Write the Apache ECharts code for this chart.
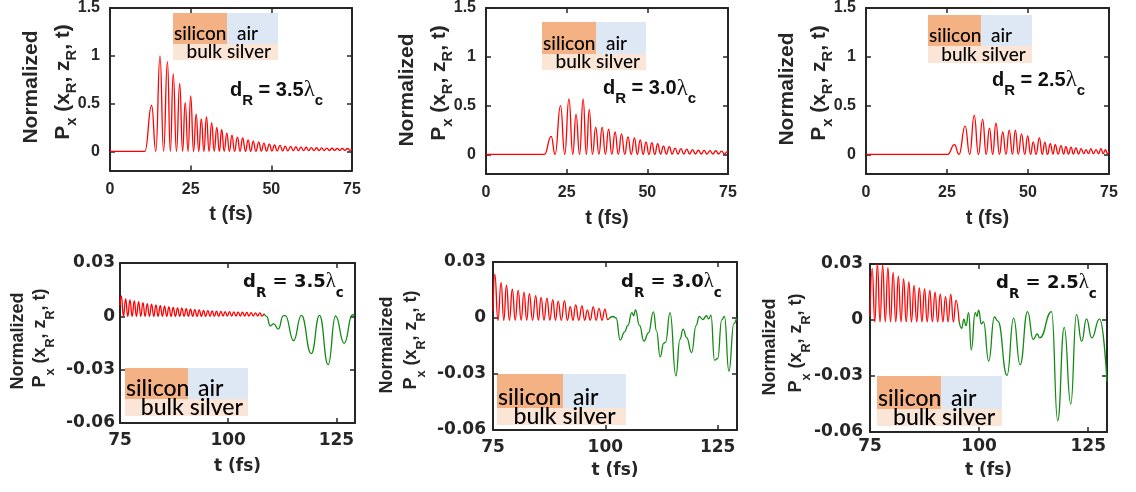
<!DOCTYPE html>
<html>
<head>
<meta charset="utf-8">
<title>Normalized Px(xR, zR, t)</title>
<script src="https://cdn.jsdelivr.net/npm/echarts@6/dist/echarts.min.js"></script>
<style>
html, body { margin: 0; padding: 0; background: #fff; }
#chart { width: 1136px; height: 492px; }
</style>
</head>
<body>
<div id="chart"></div>
<script>
// ---- data: [t (fs), normalized Px] ----
const top35 = [[0,0],[10.8,0],[12.9,0.48],[14.2,0],[15.5,1.0],[16.6,0],[17.8,0.94],[18.7,0],[19.6,0.81],[20.6,0],[21.6,0.71],[22.5,0],[23.3,0.51],[24.2,0],[25.0,0.58],[25.9,0],[26.7,0.39],[27.5,0],[28.3,0.34],[29.1,0],[29.9,0.36],[30.7,0],[31.5,0.30],[32.3,0],[33.1,0.25],[33.9,0],[34.6,0.23],[35.4,0],[36.2,0.19],[37.0,0],[37.8,0.17],[38.6,0],[39.5,0.15],[40.3,0],[41.1,0.14],[42.0,0],[42.8,0.12],[43.6,0],[44.4,0.107],[45.2,0],[46.1,0.096],[46.9,0.003],[47.7,0.086],[48.5,0.003],[49.4,0.075],[50.2,0.005],[51.0,0.069],[51.8,0.005],[52.7,0.062],[53.5,0.006],[54.3,0.055],[55.1,0.006],[56.0,0.052],[56.8,0.007],[57.6,0.048],[58.4,0.007],[59.2,0.045],[60.0,0.008],[60.8,0.043],[61.6,0.008],[62.4,0.04],[63.2,0.008],[64.0,0.038],[64.8,0.009],[65.6,0.036],[66.4,0.009],[67.2,0.035],[68.0,0.009],[68.8,0.033],[69.6,0.01],[70.4,0.032],[71.2,0.01],[72.0,0.031],[72.8,0.01],[73.6,0.03],[74.4,0.01],[75,0.025]];
const top30 = [[0,0],[18.1,0],[20.2,0.185],[21.4,0],[23.1,0.50],[24.4,0],[25.7,0.57],[26.9,0],[27.9,0.41],[29.0,0],[30.1,0.57],[31.1,0],[32.0,0.46],[33.0,0],[34.0,0.28],[35.0,0],[36.0,0.28],[37.0,0],[38.0,0.26],[39.0,0],[40.0,0.23],[41.0,0],[42.0,0.21],[43.0,0],[44.0,0.18],[45.0,0],[46.0,0.17],[46.9,0],[47.8,0.15],[48.7,0],[49.6,0.13],[50.5,0],[51.4,0.12],[52.3,0],[53.2,0.11],[54.1,0.005],[55.0,0.085],[55.9,0.005],[56.8,0.08],[57.7,0.005],[58.6,0.065],[59.5,0.005],[60.4,0.06],[61.3,0.005],[62.2,0.055],[63.1,0.005],[64.0,0.05],[64.9,0.005],[65.8,0.045],[66.7,0.005],[67.6,0.042],[68.5,0.005],[69.4,0.04],[70.3,0.005],[71.2,0.038],[72.1,0.005],[73.0,0.035],[73.9,0.005],[74.8,0.03],[75,0.02]];
const top25 = [[0,0],[25.2,0],[27.3,0.10],[28.7,0],[30.6,0.29],[32.0,0],[33.4,0.40],[34.7,0],[36.0,0.36],[37.1,0],[38.1,0.27],[39.1,0],[40.1,0.32],[41.2,0],[42.2,0.23],[43.2,0],[44.2,0.25],[45.2,0],[46.1,0.25],[47.0,0],[48.0,0.21],[49.0,0],[49.9,0.19],[50.8,0],[51.6,0.13],[52.5,0],[53.5,0.17],[54.4,0],[55.2,0.126],[56.0,0],[56.9,0.11],[57.7,0.005],[58.4,0.10],[59.3,0.005],[60.2,0.09],[61.0,0.005],[61.7,0.08],[62.5,0.005],[63.3,0.075],[64.0,0.005],[64.8,0.068],[65.6,0.005],[66.4,0.06],[67.2,0.008],[67.9,0.05],[68.7,0.008],[69.4,0.06],[70.2,0.008],[71.0,0.05],[71.8,0.008],[72.5,0.06],[73.2,0.008],[73.9,0.05],[74.5,0.01],[75,0.03]];

const redBot35 = [[75,0.006],[75.3,0.0115],[75.8,0],[76.3,0.0098],[76.8,0],[77.3,0.0092],[77.8,0],[78.3,0.0087],[78.8,0],[79.3,0.0082],[79.8,0],[80.3,0.0077],[80.8,0],[81.3,0.0072],[81.8,0],[82.3,0.0068],[82.8,0],[83.3,0.0064],[83.8,0],[84.3,0.006],[84.8,0],[85.3,0.0057],[85.8,0],[86.3,0.0053],[86.8,0],[87.3,0.005],[87.8,0],[88.3,0.0048],[88.8,0],[89.3,0.0046],[89.8,0],[90.3,0.0043],[90.8,0],[91.3,0.004],[91.8,0],[92.3,0.0038],[92.8,0],[93.3,0.0036],[93.8,0],[94.3,0.0034],[94.8,0],[95.3,0.0032],[95.8,0],[96.3,0.003],[96.8,0],[97.3,0.0029],[97.8,0],[98.3,0.0028],[98.8,0.0002],[99.3,0.0027],[99.8,0.0002],[100.3,0.0026],[100.8,0.0002],[101.3,0.0025],[101.8,0.0002],[102.3,0.0024],[102.8,0.0002],[103.3,0.0023],[103.8,0.0002],[104.3,0.0022],[104.8,0.0002],[105.3,0.0021],[105.8,0.0002],[106.3,0.002],[106.8,0.0002],[107.3,0.0019],[107.8,0.0002],[108.3,0.0015]];
const greenBot35 = [[108.3,0.0015],[108.9,0],[109.7,-0.0054],[110.5,-0.0042],[111.6,-0.0072],[112.7,0.0003],[113.2,0.0004],[115.1,-0.0137],[116.9,0.0005],[119.2,-0.021],[121.1,0.0005],[123.1,-0.0272],[124.8,0.0002],[126.8,-0.0152],[128.7,0.0009],[129.2,0.0005]];

const redBot30 = [[75,0.004],[75.4,0.0235],[76.1,-0.0012],[76.8,0.019],[77.4,-0.0012],[78.0,0.0176],[78.65,-0.0012],[79.3,0.0154],[79.95,-0.0012],[80.6,0.0148],[81.25,-0.0012],[81.9,0.0139],[82.5,-0.0012],[83.1,0.013],[83.8,-0.0012],[84.5,0.012],[85.1,-0.0012],[85.7,0.0111],[86.35,-0.0012],[87.0,0.0107],[87.65,-0.0012],[88.3,0.0098],[88.9,-0.0012],[89.5,0.009],[90.2,-0.0012],[90.9,0.0093],[91.55,-0.0012],[92.2,0.0061],[92.8,-0.0012],[93.4,0.007],[94.1,-0.0012],[94.8,0.0065],[95.4,-0.0012],[96.0,0.0042],[96.65,-0.0012],[97.3,0.006],[97.95,-0.0012],[98.6,0.0052],[99.25,-0.0012],[99.9,0.0048],[100.5,-0.0008],[100.8,-0.0003]];
const greenBot30 = [[100.8,-0.0003],[101.7,0.0008],[102.4,0],[103.3,-0.0118],[104.3,-0.0074],[105.0,-0.004],[105.9,0.0029],[106.3,0.0012],[106.7,0.0043],[107.6,-0.004],[108.6,-0.0124],[109.6,-0.008],[110.7,0.0033],[111.4,-0.007],[112.2,-0.0208],[113.0,-0.0135],[113.4,-0.013],[114.4,0.0029],[115.7,-0.031],[116.6,-0.0115],[117.3,-0.006],[118.1,-0.0105],[119.2,-0.0185],[120.2,-0.004],[120.9,0.0008],[121.7,-0.0008],[122.5,0.0012],[123.0,-0.0005],[123.5,0.0015],[124.3,-0.0226],[125.0,-0.0217],[125.9,-0.001],[126.5,0.0008],[127.5,-0.0285],[128.6,-0.003],[129.2,0]];

const redBot25 = [[75,0.002],[75.5,0.0277],[76.1,-0.001],[76.7,0.0303],[77.3,-0.001],[77.9,0.0295],[78.5,-0.001],[79.1,0.028],[79.7,-0.001],[80.3,0.0255],[80.9,-0.001],[81.5,0.0235],[82.1,-0.001],[82.7,0.022],[83.3,-0.001],[83.9,0.0204],[84.5,-0.001],[85.1,0.0186],[85.7,-0.001],[86.3,0.0172],[86.9,-0.001],[87.5,0.0167],[88.1,-0.001],[88.7,0.0158],[89.3,-0.001],[89.9,0.0149],[90.5,-0.001],[91.1,0.014],[91.7,-0.001],[92.3,0.0125],[92.9,-0.001],[93.5,0.0138],[94.1,-0.001],[94.7,0.0105],[95.4,-0.0005]];
const greenBot25 = [[95.4,-0.0005],[96.0,-0.0045],[96.5,0.0005],[97.0,-0.003],[97.6,0.004],[98.2,-0.016],[99.1,0.004],[99.5,0.002],[99.9,0.0053],[100.5,-0.002],[101.0,-0.001],[102.2,-0.022],[103.5,0.0016],[104.3,-0.0006],[106.4,-0.0296],[107.9,0.001],[109.4,-0.024],[111.1,0.0045],[112.4,-0.0105],[113.3,-0.0075],[113.9,-0.0096],[116.6,0.0045],[118.0,-0.054],[119.5,-0.004],[121.0,-0.045],[122.3,0.003],[123.5,-0.0115],[124.6,0.0006],[125.8,-0.0096],[127.6,0.0006],[129.3,-0.033]];

const dLabels = ['3.5', '3.0', '2.5', '3.5', '3.0', '2.5'];
const topXTicks = [0, 25, 50, 75];
const topYTicks = [0, 0.5, 1, 1.5];
const botXTicks = [75, 100, 125];
const botYTicks = [-0.06, -0.03, 0, 0.03];

// ---- layout ----
const axisColor = '#262626';
const arial = 'Liberation Sans, Arial, sans-serif';
const dejavu = 'DejaVu Sans, sans-serif';

const panels = [
  { grid: {left: 110, top: 5.5, width: 242, height: 165}, series: [[top35, '#ff0000']], yLab: 10, xLab: 11, nameGap: 34 },
  { grid: {left: 486, top: 7, width: 242, height: 167}, series: [[top30, '#ff0000']], yLab: 10, xLab: 11, nameGap: 34 },
  { grid: {left: 866, top: 7, width: 243, height: 167}, series: [[top25, '#ff0000']], yLab: 10, xLab: 11, nameGap: 34 },
  { grid: {left: 120, top: 263, width: 235, height: 160}, series: [[redBot35, '#ff0000'], [greenBot35, '#138a13']], yLab: 5, xLab: 9, nameGap: 35 },
  { grid: {left: 493, top: 262, width: 244, height: 168}, series: [[redBot30, '#ff0000'], [greenBot30, '#138a13']], yLab: 7, xLab: 9, nameGap: 32 },
  { grid: {left: 870, top: 264, width: 237, height: 168}, series: [[redBot25, '#ff0000'], [greenBot25, '#138a13']], yLab: 7, xLab: 6, nameGap: 30 }
];

const fmt = v => String(Number(v.toFixed(3)));

const grid = [], xAxis = [], yAxis = [], series = [];
panels.forEach((p, i) => {
  const top = i < 3;
  const xt = top ? topXTicks : botXTicks;
  const yt = top ? topYTicks : botYTicks;
  const fam = top ? arial : dejavu;
  const fs = top ? 16 : 17;
  grid.push(Object.assign({containLabel: false}, p.grid));
  const line = {onZero: false, lineStyle: {color: axisColor, width: 2}};
  const tick = {inside: true, length: 5, customValues: xt, lineStyle: {color: axisColor, width: 1.5}};
  const ytick = {inside: true, length: 5, customValues: yt, lineStyle: {color: axisColor, width: 1.5}};
  const xr = top ? {min: 0, max: 75} : {min: 75, max: 129.3};
  const yr = top ? {min: -0.2, max: 1.5} : {min: -0.06, max: 0.03};
  xAxis.push(Object.assign({
    type: 'value', gridIndex: i, position: 'bottom',
    axisLine: line, axisTick: tick, splitLine: {show: false},
    axisLabel: {customValues: xt, formatter: fmt, margin: p.xLab, color: axisColor, fontWeight: 'bold', fontSize: fs, fontFamily: fam},
    name: 't (fs)', nameLocation: 'middle', nameGap: p.nameGap,
    nameTextStyle: {color: axisColor, fontWeight: 'bold', fontSize: top ? 20 : 17, fontFamily: fam}
  }, xr));
  xAxis.push(Object.assign({
    type: 'value', gridIndex: i, position: 'top',
    axisLine: line, axisTick: tick, splitLine: {show: false}, axisLabel: {show: false}
  }, xr));
  yAxis.push(Object.assign({
    type: 'value', gridIndex: i, position: 'left',
    axisLine: line, axisTick: ytick, splitLine: {show: false},
    axisLabel: {customValues: yt, formatter: fmt, margin: p.yLab, color: axisColor, fontWeight: 'bold', fontSize: fs, fontFamily: fam}
  }, yr));
  yAxis.push(Object.assign({
    type: 'value', gridIndex: i, position: 'right',
    axisLine: line, axisTick: ytick, splitLine: {show: false}, axisLabel: {show: false}
  }, yr));
  p.series.forEach(([data, color]) => {
    series.push({
      type: 'line', xAxisIndex: 2 * i, yAxisIndex: 2 * i,
      data: data, showSymbol: false, symbol: 'none',
      smooth: 0.5, smoothMonotone: 'x',
      lineStyle: {color: color, width: 1.3},
      silent: true, animation: false
    });
  });
});

// ---- annotations: layer legends, d_R labels, y axis titles ----
const legends = [
  {x: 173, y: 13, w1: 54, w2: 51, h1: 31, h2: 16, fs: 19},
  {x: 542, y: 22, w1: 54, w2: 50, h1: 32, h2: 16, fs: 19},
  {x: 928, y: 15, w1: 53, w2: 51, h1: 31, h2: 17, fs: 19},
  {x: 125, y: 368, w1: 63, w2: 60, h1: 31, h2: 17, fs: 23},
  {x: 497, y: 374, w1: 66, w2: 63, h1: 34, h2: 17, fs: 23},
  {x: 877, y: 376, w1: 64, w2: 61, h1: 33, h2: 17, fs: 23}
];
const dPos = [[230, 90], [603, 88.5], [992, 80], [243, 282], [621, 282], [996, 283]];
const yTitles = [
  {nx: 31.5, px: 63, ny: 87, py: 82},
  {nx: 407, px: 439, ny: 90, py: 83},
  {nx: 787, px: 819, ny: 89, py: 83},
  {nx: 18, px: 40, ny: 341, py: 338},
  {nx: 387, px: 411, ny: 345, py: 340},
  {nx: 770, px: 796, ny: 347, py: 343}
];

const graphic = [];
legends.forEach(l => {
  const rich = {t: {fontFamily: 'Lato, Open Sans, sans-serif', fontSize: l.fs, fontWeight: 500, fill: '#000'}};
  graphic.push(
    {type: 'rect', silent: true, shape: {x: l.x, y: l.y, width: l.w1, height: l.h1}, style: {fill: '#f4b183'}},
    {type: 'rect', silent: true, shape: {x: l.x + l.w1, y: l.y, width: l.w2, height: l.h1}, style: {fill: '#dde8f4'}},
    {type: 'rect', silent: true, shape: {x: l.x, y: l.y + l.h1, width: l.w1 + l.w2, height: l.h2}, style: {fill: '#fbe5d6'}},
    {type: 'text', silent: true, x: l.x + 1, y: l.y + l.h1 - 10, style: {text: '{t|silicon}', rich: rich, align: 'left', verticalAlign: 'middle'}},
    {type: 'text', silent: true, x: l.x + l.w1 + 10, y: l.y + l.h1 - 10, style: {text: '{t|air}', rich: rich, align: 'left', verticalAlign: 'middle'}},
    {type: 'text', silent: true, x: l.x + l.w1 * 0.25, y: l.y + l.h1 + l.h2 / 2, style: {text: '{t|bulk silver}', rich: rich, align: 'left', verticalAlign: 'middle'}}
  );
});

dPos.forEach((d, i) => {
  const top = i < 3;
  const fam = top ? arial : dejavu;
  const fs = top ? 20 : 18;
  graphic.push({
    type: 'text', silent: true, x: d[0], y: d[1],
    style: {
      text: '{m|d}{s|R}{m| = ' + dLabels[i] + '}{l|λ}{s|c}',
      align: 'left', verticalAlign: 'middle',
      rich: {
        m: {fontFamily: fam, fontWeight: 'bold', fontSize: fs, lineHeight: 36, fill: '#111', verticalAlign: 'middle'},
        s: {fontFamily: fam, fontWeight: 'bold', fontSize: fs * 0.75, fill: '#111', verticalAlign: 'bottom'},
        l: {fontFamily: 'Liberation Serif, serif', fontSize: fs * 1.15, lineHeight: 36, fill: '#111', verticalAlign: 'middle'}
      }
    }
  });
});

yTitles.forEach((t, i) => {
  const top = i < 3;
  const fs = top ? 21 : 18;
  graphic.push({
    type: 'text', silent: true, x: t.nx, y: t.ny, rotation: Math.PI / 2,
    style: {
      text: '{n|Normalized}', align: 'center', verticalAlign: 'middle',
      rich: {n: {fontFamily: arial, fontWeight: 'bold', fontSize: fs, fill: axisColor}}
    }
  });
  graphic.push({
    type: 'text', silent: true, x: t.px, y: t.py, rotation: Math.PI / 2,
    style: {
      text: '{m|P}{s|x}{m| (x}{s|R}{m|, z}{s|R}{m|, t)}',
      align: 'center', verticalAlign: 'middle',
      rich: {
        m: {fontFamily: arial, fontWeight: 'bold', fontSize: fs, lineHeight: top ? 32 : 34, fill: axisColor, verticalAlign: 'middle'},
        s: {fontFamily: arial, fontWeight: 'bold', fontSize: fs * 0.7, fill: axisColor, verticalAlign: 'bottom'}
      }
    }
  });
});

const chart = echarts.init(document.getElementById('chart'), null, {renderer: 'canvas'});
chart.setOption({
  animation: false,
  backgroundColor: '#fff',
  grid: grid,
  xAxis: xAxis,
  yAxis: yAxis,
  series: series,
  graphic: graphic
});
</script>
</body>
</html>
